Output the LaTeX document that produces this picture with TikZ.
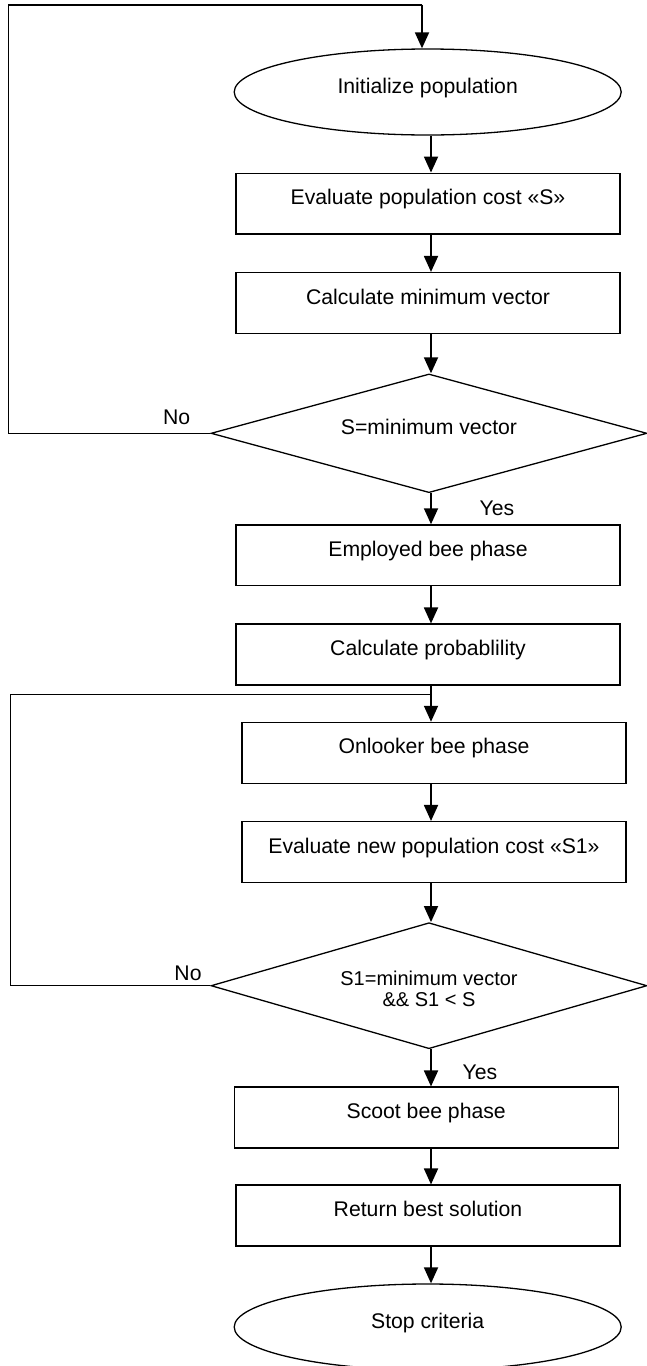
\documentclass[tikz,border=0pt]{standalone}
\usepackage{fontspec}
\setmainfont{Liberation Sans}
\usetikzlibrary{shapes.geometric,arrows.meta}
\begin{document}
\begin{tikzpicture}[x=1pt,y=-1pt,
  every node/.style={font=\fontsize{21.2}{25}\selectfont},
  procbox/.style={draw,line width=1.3pt,rectangle,inner sep=0pt,minimum width=384pt,minimum height=60.8pt,text height=15pt,text depth=13pt},
  termnode/.style={draw,line width=1.3pt,ellipse,inner sep=0pt,minimum width=387pt,minimum height=86pt,text height=15pt,text depth=13pt},
  decnode/.style={draw,line width=1.3pt,diamond,inner sep=0pt,minimum width=436pt},
  dectext/.style={inner sep=0pt,text height=15pt,text depth=13pt},
  arr/.style={line width=1.8pt,-{Triangle[length=16pt,width=14pt]}},
  loopline/.style={line width=1.1pt},
  lbl/.style={anchor=base,inner sep=0pt}]
\useasboundingbox (0,0) rectangle (647,1366);
\coordinate (ax) at (431,0);
% nodes
\node[termnode] (init) at (427.7,92) {Initialize population};
\node[procbox] (eval) at (428,203.6) {Evaluate population cost «S»};
\node[procbox] (calcmin) at (428,303) {Calculate minimum vector};
\node[decnode,minimum height=118.7pt] (d1) at (429,433.3) {};
\node[dectext] (d1t) at (d1.center) {S=minimum vector};
\node[procbox] (employed) at (428,555.3) {Employed bee phase};
\node[procbox] (calcprob) at (428,654.5) {Calculate probablility};
\node[procbox] (onlooker) at (434,752.8) {Onlooker bee phase};
\node[procbox] (evalnew) at (434,852) {Evaluate new population cost «S1»};
\node[decnode,minimum height=126pt] (d2) at (429,985.7) {};
\node[align=center,inner sep=0pt,font=\fontsize{20}{21.7}\selectfont] (d2t) at ([yshift=-3pt]d2.center) {S1=minimum vector\\\&\& S1 < S};
\node[procbox] (scoot) at (426.2,1117.5) {Scoot bee phase};
\node[procbox] (ret) at (428,1215.5) {Return best solution};
\node[termnode] (stop) at (427.7,1327) {Stop criteria};
% labels
\node[lbl] (no1) at (176.6,424) {No};
\node[lbl] (yes1) at (497,515) {Yes};
\node[lbl] (no2) at (188,980.7) {No};
\node[lbl] (yes2) at (480,1079) {Yes};
% main flow
\draw[arr] (init.south -| ax) -- (eval.north -| ax);
\draw[arr] (eval.south -| ax) -- (calcmin.north -| ax);
\draw[arr] (calcmin.south -| ax) -- (d1.north -| ax);
\draw[arr] (d1.south -| ax) -- (employed.north -| ax);
\draw[arr] (employed.south -| ax) -- (calcprob.north -| ax);
\draw[arr] (calcprob.south -| ax) -- (onlooker.north -| ax);
\draw[arr] (onlooker.south -| ax) -- (evalnew.north -| ax);
\draw[arr] (evalnew.south -| ax) -- (d2.north -| ax);
\draw[arr] (d2.south -| ax) -- (scoot.north -| ax);
\draw[arr] (scoot.south -| ax) -- (ret.north -| ax);
\draw[arr] (ret.south -| ax) -- (stop.north -| ax);
% loop 1
\coordinate (L1) at (8.3,4.7);
\coordinate (T1) at (422,4.7);
\draw[loopline] (d1.west) -- (d1.west -| L1) -- (L1);
\draw[line width=1.6pt] (L1) -- (T1);
\draw[arr] (T1) -- (init.north -| T1);
% loop 2
\coordinate (L2) at (10.3,694.7);
\draw[loopline] (d2.west) -- (d2.west -| L2) -- (L2) -- (ax |- L2);
\end{tikzpicture}
\end{document}
